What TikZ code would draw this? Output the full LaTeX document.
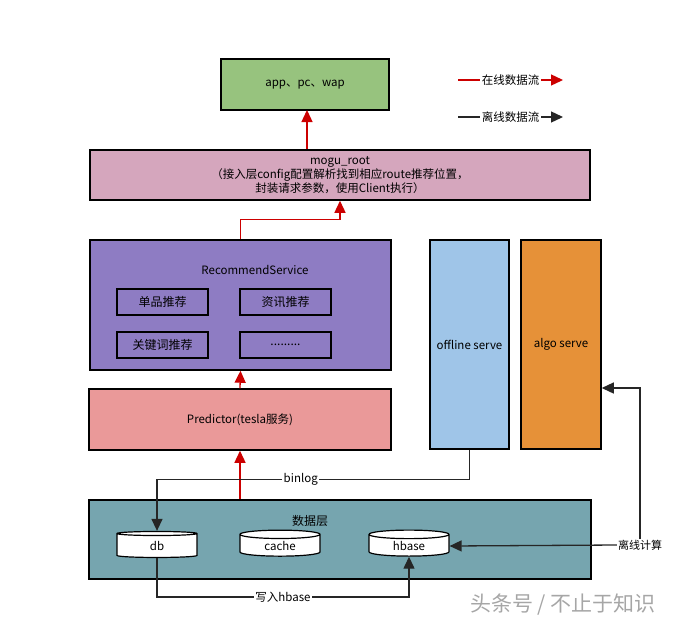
\documentclass[tikz,border=0pt]{standalone}
\usepackage{fontspec}
\setmainfont{Noto Sans CJK SC}
\usetikzlibrary{arrows.meta,shapes.geometric}
\definecolor{appgreen}{HTML}{97C37E}
\definecolor{rootpink}{HTML}{D5A6BD}
\definecolor{recpurple}{HTML}{8E7CC3}
\definecolor{predred}{HTML}{EA9999}
\definecolor{offblue}{HTML}{9FC5E8}
\definecolor{algoorange}{HTML}{E69138}
\definecolor{datateal}{HTML}{76A5AF}
\definecolor{onlinered}{HTML}{CC0000}

\begin{document}
\begin{tikzpicture}[x=1pt,y=1pt,yscale=-1,
  box/.style={draw=black, line width=1.5pt, inner sep=1pt, align=center, font=\fontsize{11.5}{14}\selectfont},
  subbox/.style={box, minimum width=91pt, minimum height=26pt, font=\fontsize{12}{14}\selectfont},
  dbcyl/.style={cylinder, shape border rotate=90, draw=black, fill=white, line width=1.2pt, aspect=0.25, minimum width=80pt, minimum height=26pt, inner sep=1pt, font=\fontsize{11.5}{14}\selectfont},
  online/.style={draw=onlinered, line width=1.3pt, -{Triangle[length=12pt,width=11pt]}},
  offline/.style={draw=black!85, line width=1.3pt, -{Triangle[length=12pt,width=11pt]}},
  lbl/.style={fill=white, inner sep=1.5pt, font=\fontsize{11.5}{13}\selectfont}]
\useasboundingbox (0,0) rectangle (684,627);

%Shape: Rectangle
\node[box, fill=appgreen, minimum width=168pt, minimum height=51pt] (app) at (305,84.5) {app、pc、wap};
%Shape: Rectangle
\node[box, fill=rootpink, minimum width=500pt, minimum height=50pt] (mogu) at (340,175)
  {mogu\_root\\（接入层config配置解析找到相应route推荐位置，\\封装请求参数，使用Client执行）};
%Shape: Rectangle
\node[box, fill=recpurple, minimum width=301pt, minimum height=130pt] (rs) at (240.5,305) {};
% Text Node
\node[font=\fontsize{11.5}{14}\selectfont] (rstitle) at (255,270) {RecommendService};
\node[subbox] (single) at (162.5,302) {单品推荐};
\node[subbox] (news) at (285.5,302) {资讯推荐};
\node[subbox] (keyword) at (162.5,345) {关键词推荐};
\node[subbox] (more) at (285.5,345) {.........};
%Shape: Rectangle
\node[box, fill=predred, minimum width=302pt, minimum height=61pt] (pred) at (240,419.5) {Predictor(tesla服务)};
%Shape: Rectangle
\node[box, fill=offblue, minimum width=79pt, minimum height=209pt] (offl) at (469.5,344.5) {offline serve};
%Shape: Rectangle
\node[box, fill=algoorange, minimum width=80pt, minimum height=209pt] (algo) at (561,344.5) {algo serve};
%Shape: Rectangle
\node[box, fill=datateal, minimum width=502pt, minimum height=79pt] (data) at (340,539.5) {};
% Text Node
\node[font=\fontsize{12}{14}\selectfont] (datatitle) at (310,521) {数据层};
%Shape: Can
\node[dbcyl] (db) at (157,546) {db};
\node[dbcyl] (cache) at (280,546) {cache};
\node[dbcyl] (hbase) at (409,546) {hbase};
% Text Node
\node[font=\fontsize{11}{13}\selectfont, inner sep=1pt] (calc) at (640,545) {离线计算};

%Straight Lines: online flow
\draw[online] (mogu.north -| 307,0) -- (307,110);
\draw[online] (rs.north) -- ++(0,-20) -| (mogu.south);
\draw[online] (pred.north) -- (rs.south);
\draw[online] (data.north -| pred) -- (pred.south);

%Straight Lines: offline flow
\draw[offline] (offl.south) -- ++(0,30) -| node[lbl, pos=0.27] {binlog} (db.north);
\draw[offline] (db.south) -- ++(0,39) -| node[lbl, pos=0.25] {写入hbase} (hbase.south);
\draw[offline] (calc.west) -- (hbase.east);
\path (algo.east) ++(0,43.5) coordinate (algoin);
\draw[offline] (calc.north) |- (algoin);

% legend
\coordinate (onA) at (458,80);
\coordinate (onB) at (563,80);
\draw[online] (onA) -- node[lbl] {在线数据流} (onB);
\coordinate (offA) at (458,117);
\coordinate (offB) at (563,117);
\draw[offline] (offA) -- node[lbl] {离线数据流} (offB);

% Text Node
\node[text=black!35, font=\fontsize{21}{24}\selectfont] (mark) at (563,605) {头条号 / 不止于知识};

\end{tikzpicture}
\end{document}
